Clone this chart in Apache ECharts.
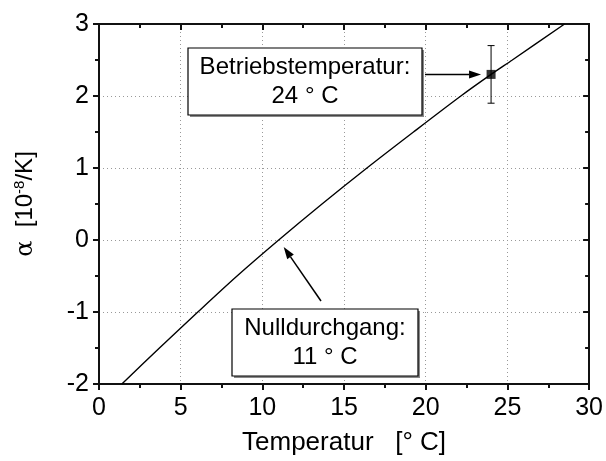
<!DOCTYPE html>
<html>
<head>
<meta charset="utf-8">
<script src="https://cdn.jsdelivr.net/npm/echarts@6/dist/echarts.min.js"></script>
<style>
  html, body { margin: 0; padding: 0; background: #fff; }
  #chart { width: 606px; height: 461px; }
</style>
</head>
<body>
<div id="chart"></div>
<script>
// Expansion coefficient curve: temperature [°C] vs alpha [1e-8/K]
const curveTemp  = [1.4, 3.7, 6.05, 8.45, 11.0, 13.65, 16.4, 19.25, 22.15, 24.0, 25.3, 28.5];
const curveAlpha = [-2.0, -1.5, -1.0, -0.5, 0.0, 0.5, 1.0, 1.5, 2.0, 2.3, 2.5, 3.0];

// Operating point with its error bar
const opTemp = [24];
const opAlpha = [2.3];
const opErr = [0.4];

// Zero crossing
const zeroTemp = 11;
const zeroAlpha = 0;

const xTicks = [0, 5, 10, 15, 20, 25, 30];
const yTicks = [-2, -1, 0, 1, 2, 3];

const FONT = 'Liberation Sans, Arial, sans-serif';

const chart = echarts.init(document.getElementById('chart'), null, { renderer: 'canvas' });

const axisLine = { show: true, onZero: false, lineStyle: { color: '#111', width: 2 } };

const baseX = {
  type: 'value', min: xTicks[0], max: xTicks[xTicks.length - 1], interval: 5,
  axisLine: axisLine
};
const baseY = {
  type: 'value', min: yTicks[0], max: yTicks[yTicks.length - 1], interval: 1,
  axisLine: axisLine
};

const option = {
  animation: false,
  backgroundColor: '#fff',
  grid: { left: 99, top: 24, width: 494, height: 365, containLabel: false },
  xAxis: [
    Object.assign({}, baseX, {
      position: 'bottom',
      name: 'Temperatur   [° C]',
      nameLocation: 'middle',
      nameGap: 46,
      nameTextStyle: { fontFamily: FONT, fontSize: 26, color: '#000' },
      axisTick: { show: true, inside: false, length: 6, lineStyle: { color: '#111', width: 2 } },
      minorTick: { show: true, splitNumber: 2, length: 4, lineStyle: { color: '#111', width: 2 } },
      axisLabel: { fontFamily: FONT, fontSize: 25, color: '#000', margin: 12 },
      splitLine: { show: true, lineStyle: { color: '#999', width: 1, type: [1, 3] } }
    }),
    Object.assign({}, baseX, {
      position: 'top',
      axisTick: { show: true, inside: true, length: 6, lineStyle: { color: '#111', width: 2 } },
      minorTick: { show: true, splitNumber: 2, length: 4, lineStyle: { color: '#111', width: 2 } },
      axisLabel: { show: false },
      splitLine: { show: false }
    })
  ],
  yAxis: [
    Object.assign({}, baseY, {
      position: 'left',
      name: '{a|α}  [10{s|-8}/K]',
      nameLocation: 'middle',
      nameGap: 60,
      nameRotate: 90,
      nameTextStyle: {
        fontFamily: FONT, fontSize: 24, color: '#000',
        rich: {
          a: { fontFamily: 'DejaVu Serif, serif', fontSize: 24, color: '#000' },
          s: { fontFamily: FONT, fontSize: 15, color: '#000', verticalAlign: 'top', padding: [0, 0, 12, 0] }
        }
      },
      axisTick: { show: true, inside: false, length: 6, lineStyle: { color: '#111', width: 2 } },
      minorTick: { show: true, splitNumber: 2, length: 4, lineStyle: { color: '#111', width: 2 } },
      axisLabel: { fontFamily: FONT, fontSize: 25, color: '#000', margin: 10 },
      splitLine: { show: true, lineStyle: { color: '#999', width: 1, type: [1, 3] } }
    }),
    Object.assign({}, baseY, {
      position: 'right',
      axisTick: { show: true, inside: true, length: 6, lineStyle: { color: '#111', width: 2 } },
      minorTick: { show: true, splitNumber: 2, length: 4, lineStyle: { color: '#111', width: 2 } },
      axisLabel: { show: false },
      splitLine: { show: false }
    })
  ],
  series: [
    {
      type: 'line',
      data: curveTemp.map((t, i) => [t, curveAlpha[i]]),
      smooth: 0.3,
      showSymbol: false,
      lineStyle: { color: '#000', width: 1.4 },
      z: 3
    },
    {
      type: 'custom',
      data: opTemp.map((t, i) => [t, opAlpha[i], opErr[i]]),
      renderItem: function (params, api) {
        const x = api.value(0), y = api.value(1), e = api.value(2);
        const top = api.coord([x, y + e]);
        const bot = api.coord([x, y - e]);
        const cap = 3.5;
        const style = { stroke: '#000', lineWidth: 1 };
        return {
          type: 'group',
          children: [
            { type: 'line', shape: { x1: top[0], y1: top[1], x2: bot[0], y2: bot[1] }, style: style },
            { type: 'line', shape: { x1: top[0] - cap, y1: top[1], x2: top[0] + cap, y2: top[1] }, style: style },
            { type: 'line', shape: { x1: bot[0] - cap, y1: bot[1], x2: bot[0] + cap, y2: bot[1] }, style: style }
          ]
        };
      },
      z: 4
    },
    {
      type: 'scatter',
      data: opTemp.map((t, i) => [t, opAlpha[i]]),
      symbol: 'rect',
      symbolSize: 9,
      itemStyle: { color: '#000' },
      z: 5
    }
  ]
};

chart.setOption(option);

// Annotation boxes with arrows pointing at data positions
function annotations() {
  const op = chart.convertToPixel({ gridIndex: 0 }, [opTemp[0], opAlpha[0]]);
  const zp = chart.convertToPixel({ gridIndex: 0 }, [zeroTemp, zeroAlpha]);

  function box(x, y, w, h, lines) {
    return [
      { type: 'rect', shape: { x: x + 2, y: y + 2, width: w, height: h }, style: { fill: '#888' }, z: 10 },
      { type: 'rect', shape: { x: x, y: y, width: w, height: h }, style: { fill: '#fff', stroke: '#000', lineWidth: 1.2 }, z: 11 },
      {
        type: 'text', x: x + w / 2, y: y + h / 2, z: 12,
        style: {
          text: lines.join('\n'), font: '24px ' + FONT, fill: '#000',
          align: 'center', verticalAlign: 'middle', lineHeight: 29
        }
      }
    ];
  }

  function arrow(x1, y1, x2, y2) {
    const ang = Math.atan2(y2 - y1, x2 - x1);
    const len = 12, half = 4;
    const bx = x2 - len * Math.cos(ang), by = y2 - len * Math.sin(ang);
    const px = -Math.sin(ang) * half, py = Math.cos(ang) * half;
    return [
      { type: 'line', shape: { x1: x1, y1: y1, x2: bx, y2: by }, style: { stroke: '#000', lineWidth: 1.5 }, z: 12 },
      {
        type: 'polygon', z: 12,
        shape: { points: [[x2, y2], [bx + px, by + py], [bx - px, by - py]] },
        style: { fill: '#000' }
      }
    ];
  }

  const elements = []
    .concat(box(188, 48, 234, 67, ['Betriebstemperatur:', '24 ° C']))
    .concat(arrow(425, op[1], op[0] - 10, op[1]))
    .concat(box(232, 309, 186, 67, ['Nulldurchgang:', '11 ° C']))
    .concat(arrow(321, 301, zp[0] + 5, zp[1] + 7));

  chart.setOption({ graphic: { elements: elements } });
}
annotations();
</script>
</body>
</html>
